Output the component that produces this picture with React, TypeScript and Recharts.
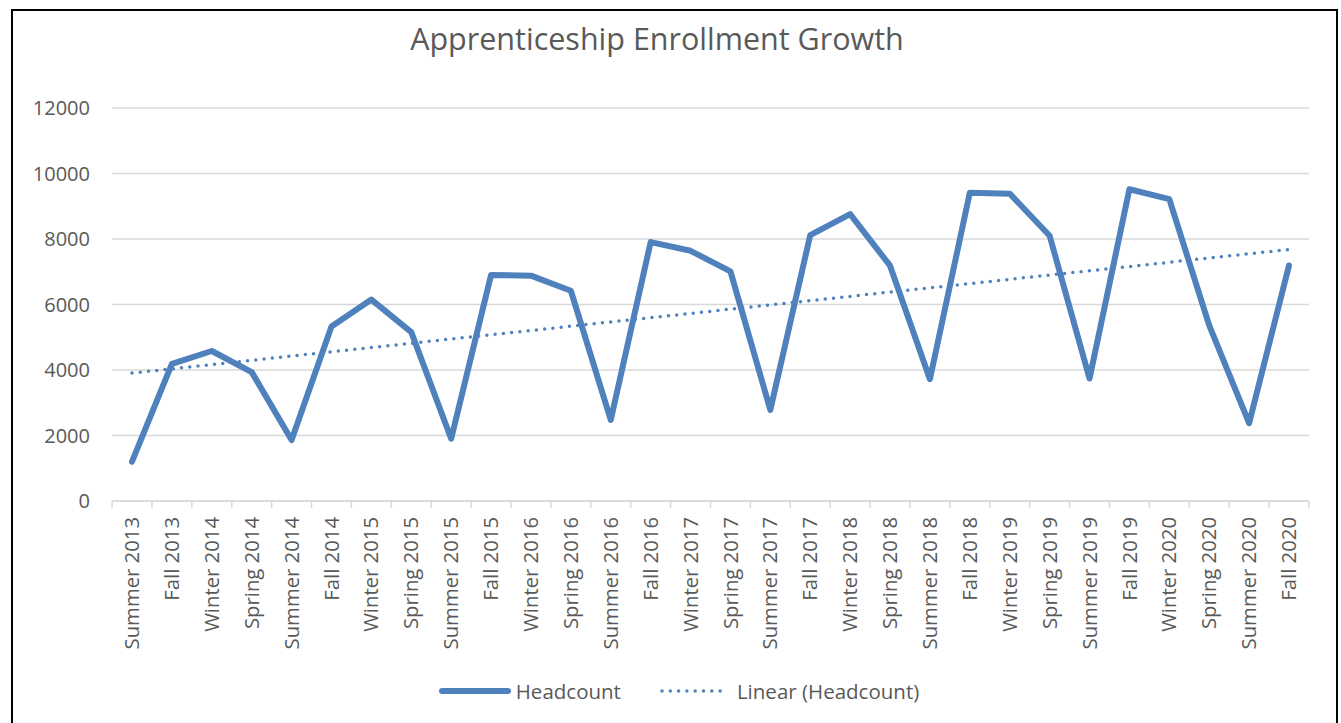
import { LineChart, Line, XAxis, YAxis, CartesianGrid, ReferenceLine, Legend } from "recharts";

const TERMS = [
  "Summer 2013", "Fall 2013", "Winter 2014", "Spring 2014", "Summer 2014", "Fall 2014",
  "Winter 2015", "Spring 2015", "Summer 2015", "Fall 2015", "Winter 2016", "Spring 2016",
  "Summer 2016", "Fall 2016", "Winter 2017", "Spring 2017", "Summer 2017", "Fall 2017",
  "Winter 2018", "Spring 2018", "Summer 2018", "Fall 2018", "Winter 2019", "Spring 2019",
  "Summer 2019", "Fall 2019", "Winter 2020", "Spring 2020", "Summer 2020", "Fall 2020",
];
const HEADCOUNT = [
  1200, 4190, 4580, 3935, 1860, 5330,
  6150, 5155, 1900, 6900, 6880, 6420,
  2475, 7905, 7640, 7010, 2780, 8120,
  8760, 7185, 3720, 9415, 9385, 8100,
  3740, 9520, 9215, 5360, 2375, 7190,
];
// linear trend line, read at first and last term
const TREND = [3905, 7680];
const Y_TICKS = [0, 2000, 4000, 6000, 8000, 10000, 12000];

const BLUE = "#4F81BD";
const TEXT = "#595959";
const GRID = "#d9d9d9";
const FONT = "'Open Sans', sans-serif";
const HALF_BAND = 19.95;

const data = TERMS.map((term, i) => ({ term, headcount: HEADCOUNT[i] }));

function TermTick(props: any) {
  const { x, y, payload, index } = props;
  const last = index === TERMS.length - 1;
  return (
    <g>
      <line x1={x - HALF_BAND} x2={x - HALF_BAND} y1={y} y2={y + 7} stroke={GRID} strokeWidth={1.5} />
      {last && <line x1={x + HALF_BAND} x2={x + HALF_BAND} y1={y} y2={y + 7} stroke={GRID} strokeWidth={1.5} />}
      <text
        x={0}
        y={0}
        dy="0.35em"
        textAnchor="end"
        transform={`translate(${x},${y + 16}) rotate(-90)`}
        fontSize={20.3}
        fill={TEXT}
        fontFamily={FONT}
      >
        {payload.value}
      </text>
    </g>
  );
}

function LegendContent() {
  return (
    <div style={{ height: 40, display: "flex", alignItems: "center", justifyContent: "center", fontFamily: FONT, fontSize: 20.5, color: TEXT, paddingLeft: 49 }}>
      <svg width={72} height={10}>
        <line x1={3} x2={69} y1={5} y2={5} stroke={BLUE} strokeWidth={6} strokeLinecap="round" />
      </svg>
      <span style={{ marginLeft: 5 }}>Headcount</span>
      <svg width={70} height={10} style={{ marginLeft: 39 }}>
        <line x1={2} x2={68} y1={5} y2={5} stroke={BLUE} strokeWidth={3.5} strokeLinecap="round" strokeDasharray="0 8.3" />
      </svg>
      <span style={{ marginLeft: 7 }}>Linear (Headcount)</span>
    </div>
  );
}

export default function App() {
  return (
    <div style={{ position: "absolute", left: 0, top: 0, width: 1341, height: 723, background: "#fff", overflow: "hidden", fontFamily: FONT }}>
      <LineChart width={1341} height={723} data={data} margin={{ top: 108, right: 32, left: 0, bottom: 12 }}>
        <CartesianGrid vertical={false} stroke={GRID} strokeWidth={1.5} />
        <XAxis
          dataKey="term"
          interval={0}
          height={170}
          padding={{ left: 20, right: 20 }}
          stroke={GRID}
          strokeWidth={1.5}
          tickLine={false}
          tickSize={0}
          tickMargin={0}
          tick={<TermTick />}
        />
        <YAxis
          domain={[0, 12000]}
          ticks={Y_TICKS}
          width={112}
          axisLine={false}
          tickLine={false}
          tickSize={0}
          tickMargin={22}
          tick={{ fontSize: 20, fill: TEXT, fontFamily: FONT }}
        />
        <ReferenceLine
          segment={[
            { x: TERMS[0], y: TREND[0] },
            { x: TERMS[TERMS.length - 1], y: TREND[1] },
          ]}
          stroke={BLUE}
          strokeWidth={3.5}
          strokeLinecap="round"
          strokeDasharray="0 8.3"
        />
        <Line
          type="linear"
          dataKey="headcount"
          stroke={BLUE}
          strokeWidth={6}
          strokeLinejoin="round"
          strokeLinecap="round"
          dot={false}
          activeDot={false}
          isAnimationActive={false}
        />
        <Legend verticalAlign="bottom" height={40} content={<LegendContent />} />
      </LineChart>
      <div style={{ position: "absolute", left: 11, top: 9, width: 1327, height: 740, border: "2.5px solid #000", boxSizing: "border-box", pointerEvents: "none" }} />
      <div style={{ position: "absolute", left: 0, width: 1314, top: 17, textAlign: "center", fontSize: 30.5, color: TEXT, fontFamily: FONT, lineHeight: "42px" }}>
        Apprenticeship Enrollment Growth
      </div>
    </div>
  );
}
